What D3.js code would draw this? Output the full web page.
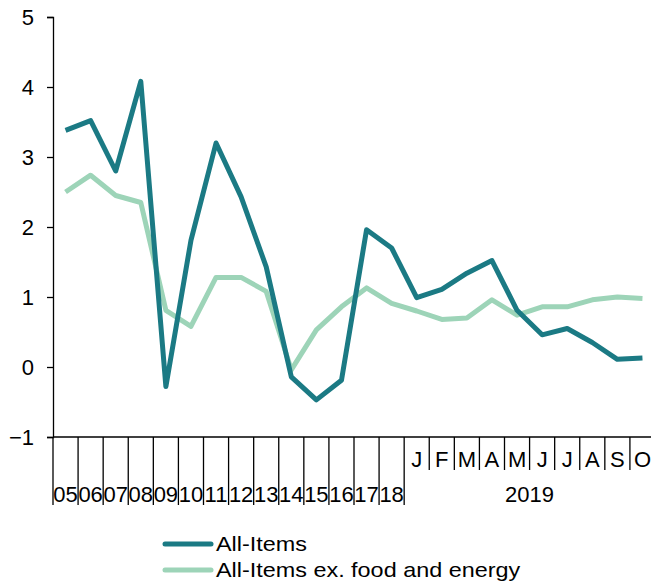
<!DOCTYPE html>
<html>
<head>
<meta charset="utf-8">
<script src="https://cdn.jsdelivr.net/npm/d3@7"></script>
<style>
  body { margin: 0; background: #fff; }
  svg { display: block; font-family: "Liberation Sans", Arial, sans-serif; }
</style>
</head>
<body>
<div id="grafico"></div>
<script>
// categorias: anos 05-18, depois meses de 2019
var anos = ["05","06","07","08","09","10","11","12","13","14","15","16","17","18"];
var meses = ["J","F","M","A","M","J","J","A","S","O"];
var ano_meses = "2019";

var all_items = [3.38, 3.52, 2.80, 4.08, -0.28, 1.81, 3.20, 2.43, 1.43, -0.14, -0.47, -0.19, 1.96, 1.70,
                 0.99, 1.11, 1.34, 1.52, 0.81, 0.46, 0.55, 0.35, 0.11, 0.13];
var core = [2.50, 2.74, 2.45, 2.35, 0.81, 0.58, 1.28, 1.28, 1.08, -0.04, 0.53, 0.86, 1.13, 0.91,
            0.80, 0.68, 0.70, 0.96, 0.74, 0.86, 0.86, 0.96, 1.00, 0.98];
var y_ticks = [-1, 0, 1, 2, 3, 4, 5];
var series_names = ["All-Items", "All-Items ex. food and energy"];

var width = 651, height = 586;
var cor_escura = "#1b7a84";
var cor_clara = "#9dd4b8";

var svg = d3.select("#grafico")
            .append("svg")
            .attr("width", width)
            .attr("height", height);

var categorias = d3.range(anos.length + meses.length);

var x = d3.scaleBand()
          .domain(categorias)
          .range([53, 655])
          .padding(0);

var y = d3.scaleLinear()
          .domain([-1, 5])
          .range([437, 17]);

// eixo y
var yAxis = d3.axisLeft(y)
              .tickValues(y_ticks)
              .tickSize(6)
              .tickPadding(13)
              .tickFormat(d3.format("d"));

var gy = svg.append("g")
            .attr("transform", "translate(53,0)")
            .call(yAxis);
gy.select(".domain").attr("stroke", "#000").attr("stroke-width", 1.3);
gy.selectAll(".tick line").attr("stroke", "#000").attr("stroke-width", 1.3);
gy.selectAll(".tick text")
  .attr("font-size", "22px")
  .attr("fill", "#000")
  .attr("font-family", "Liberation Sans, Arial, sans-serif");

// eixo x (categorias com divisórias)
var gx = svg.append("g").attr("class", "x axis");

gx.append("line")
  .attr("x1", 53).attr("x2", width)
  .attr("y1", y(-1)).attr("y2", y(-1))
  .attr("stroke", "#000").attr("stroke-width", 1.3);

gx.selectAll("line.div")
  .data(categorias)
  .enter()
  .append("line")
  .attr("class", "div")
  .attr("x1", function(d){ return x(d); })
  .attr("x2", function(d){ return x(d); })
  .attr("y1", y(-1))
  .attr("y2", function(d){ return d <= anos.length ? 505 : 470; })
  .attr("stroke", "#000")
  .attr("stroke-width", 1.3);

gx.selectAll("text.ano")
  .data(anos)
  .enter()
  .append("text")
  .attr("class", "ano")
  .attr("x", function(d, i){ return x(i) + x.bandwidth() / 2; })
  .attr("y", 502)
  .attr("text-anchor", "middle")
  .attr("font-size", "22px")
  .text(function(d){ return d; });

gx.selectAll("text.mes")
  .data(meses)
  .enter()
  .append("text")
  .attr("class", "mes")
  .attr("x", function(d, i){ return x(anos.length + i) + x.bandwidth() / 2; })
  .attr("y", 467)
  .attr("text-anchor", "middle")
  .attr("font-size", "22px")
  .text(function(d){ return d; });

gx.append("text")
  .attr("x", (x(anos.length) + x(categorias.length - 1) + x.bandwidth()) / 2)
  .attr("y", 502)
  .attr("text-anchor", "middle")
  .attr("font-size", "22px")
  .text(ano_meses);

// linhas
var linha = d3.line()
              .x(function(d, i){ return x(i) + x.bandwidth() / 2; })
              .y(function(d){ return y(d); });

svg.append("path")
   .datum(core)
   .attr("fill", "none")
   .attr("stroke", cor_clara)
   .attr("stroke-width", 5)
   .attr("stroke-linejoin", "round")
   .attr("d", linha);

svg.append("path")
   .datum(all_items)
   .attr("fill", "none")
   .attr("stroke", cor_escura)
   .attr("stroke-width", 5)
   .attr("stroke-linejoin", "round")
   .attr("d", linha);

// legenda
var legenda = svg.append("g").attr("class", "legend");
var cores = [cor_escura, cor_clara];

legenda.selectAll("line")
  .data(series_names)
  .enter()
  .append("line")
  .attr("x1", 165).attr("x2", 211)
  .attr("y1", function(d, i){ return 544 + i * 26; })
  .attr("y2", function(d, i){ return 544 + i * 26; })
  .attr("stroke", function(d, i){ return cores[i]; })
  .attr("stroke-width", 5)
  .attr("stroke-linecap", "round");

// texto da legenda é mais largo no original
legenda.selectAll("text")
  .data(series_names)
  .enter()
  .append("text")
  .attr("transform", function(d, i){ return "translate(216," + (551 + i * 26) + ") scale(1.17,1)"; })
  .attr("font-size", "20px")
  .text(function(d){ return d; });
</script>
</body>
</html>
